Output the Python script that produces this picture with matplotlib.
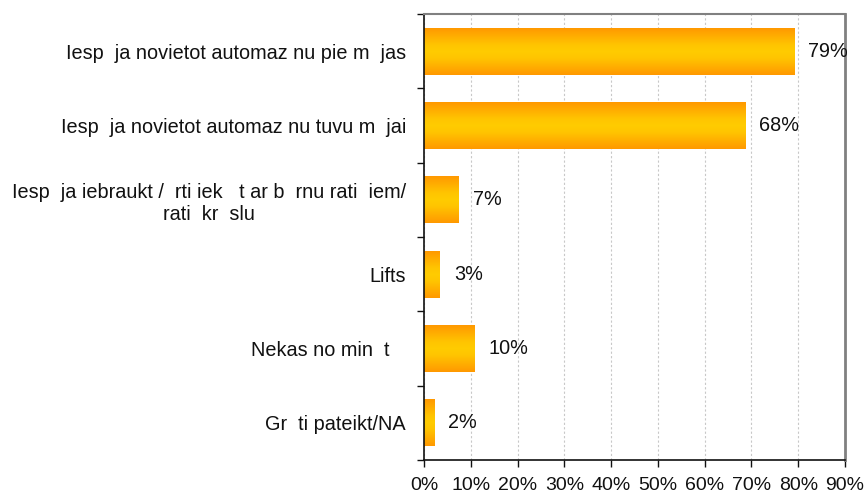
import matplotlib
matplotlib.use("Agg")
import matplotlib.pyplot as plt
import numpy as np
from matplotlib.colors import LinearSegmentedColormap

categories = [
    "Iesp  ja novietot automaz nu pie m  jas",
    "Iesp  ja novietot automaz nu tuvu m  jai",
    "Iesp  ja iebraukt /  rti iek   t ar b  rnu rati  iem/\nrati  kr  slu",
    "Lifts",
    "Nekas no min  t   ",
    "Gr  ti pateikt/NA",
]
values = [79.1, 68.7, 7.4, 3.4, 10.8, 2.2]
value_labels = ["79%", "68%", "7%", "3%", "10%", "2%"]
xticks = [0, 10, 20, 30, 40, 50, 60, 70, 80, 90]

plt.rcParams["font.family"] = ["Liberation Sans", "DejaVu Sans"]

fig = plt.figure(figsize=(8.68, 4.93), dpi=100)
ax = fig.add_axes([424 / 868, 33 / 493, 421 / 868, 446 / 493])

cmap = LinearSegmentedColormap.from_list(
    "bar", [(0, "#FF9900"), (0.35, "#FFC400"), (0.5, "#FFCC00"), (0.65, "#FFC400"), (1, "#FF9900")])
grad = np.linspace(0, 1, 100).reshape(-1, 1)
bar_h = 0.63
ys = np.arange(len(categories))

for y, v, lab in zip(ys, values, value_labels):
    ax.imshow(grad, cmap=cmap, aspect="auto", interpolation="bilinear",
              extent=(0, v, y + bar_h / 2, y - bar_h / 2), zorder=2)
    ax.annotate(lab, xy=(v, y), xytext=(10, 0), textcoords="offset points",
                va="center", ha="left", fontsize=14.3, color="#111111")

ax.set_xlim(0, 90)
ax.set_ylim(len(categories) - 0.5, -0.5)

ax.set_xticks(xticks)
ax.set_xticklabels([f"{t}%" for t in xticks], fontsize=14)
ax.tick_params(axis="x", direction="out", length=5, width=1, pad=7, colors="#111111")

ax.set_yticks(ys)
ax.set_yticklabels(categories, fontsize=14.3, multialignment="center")
ax.set_yticks(np.arange(len(categories) + 1) - 0.5, minor=True)
ax.tick_params(axis="y", which="major", length=0, pad=13, colors="#111111")
ax.tick_params(axis="y", which="minor", direction="out", length=5, width=1, color="#111111")

ax.grid(axis="x", color="#C8C8C8", linestyle=(0, (2, 2)), linewidth=0.8, zorder=0)
ax.set_axisbelow(True)

ax.spines["left"].set_color("#111111")
ax.spines["bottom"].set_color("#111111")
ax.spines["left"].set_linewidth(1.2)
ax.spines["bottom"].set_linewidth(1.2)
ax.spines["top"].set_color("#808080")
ax.spines["top"].set_linewidth(1.5)
ax.spines["right"].set_color("#808080")
ax.spines["right"].set_linewidth(2)

fig.savefig("out.png", dpi=100)
